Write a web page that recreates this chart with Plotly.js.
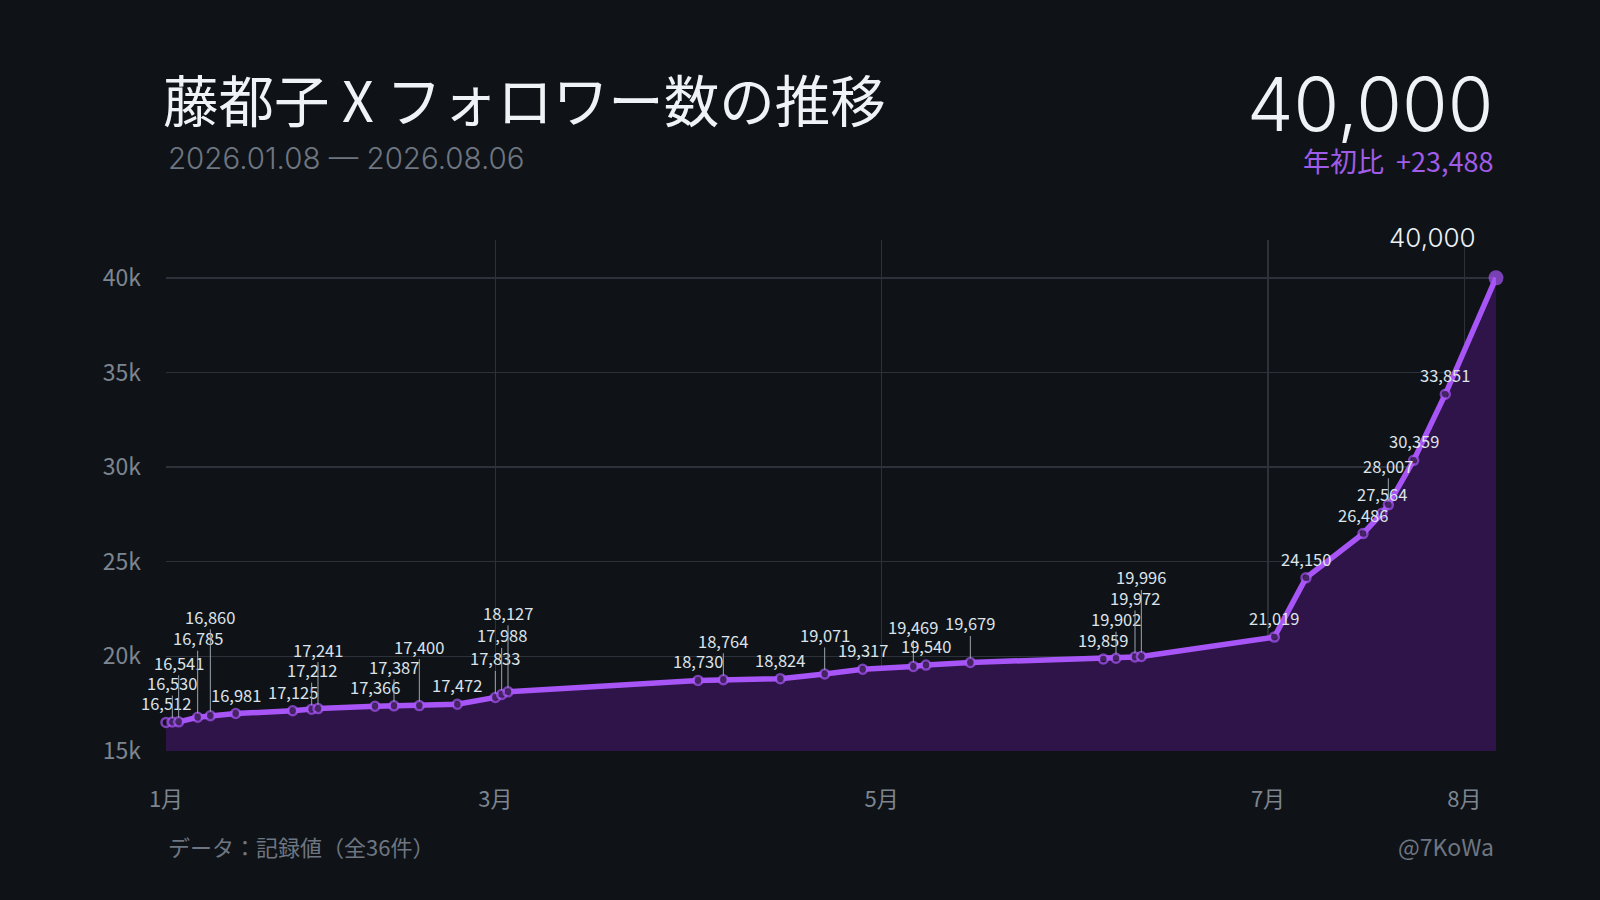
<!DOCTYPE html>
<html><head><meta charset="utf-8">
<script src="https://cdn.plot.ly/plotly-3.0.1.min.js"></script>
<style>html,body{margin:0;padding:0;background:#0f1318;}#chart{width:1600px;height:900px;}</style>
</head><body><div id="chart"></div>
<script>
// ---- data ----
const dates = ['2026-01-08','2026-01-09','2026-01-10','2026-01-13','2026-01-15','2026-01-19','2026-01-28','2026-01-31','2026-02-01',
  '2026-02-10','2026-02-13','2026-02-17','2026-02-23','2026-03-01','2026-03-02','2026-03-03',
  '2026-04-02','2026-04-06','2026-04-15','2026-04-22','2026-04-28','2026-05-06','2026-05-08','2026-05-15',
  '2026-06-05','2026-06-07','2026-06-10','2026-06-11',
  '2026-07-02','2026-07-07','2026-07-16','2026-07-19','2026-07-20','2026-07-24','2026-07-29','2026-08-06'];
const followers = [16512,16530,16541,16785,16860,16981,17125,17212,17241,
  17366,17387,17400,17472,17833,17988,18127,
  18730,18764,18824,19071,19317,19469,19540,19679,
  19859,19902,19972,19996,
  21019,24150,26486,27564,28007,30359,33851,40000];
const xTickVals = ['2026-01-08','2026-03-01','2026-05-01','2026-07-01','2026-08-01'];
const xTickText = ['1月','3月','5月','7月','8月'];
const yTickVals = [15000,20000,25000,30000,35000,40000];
const yTickText = ['15k','20k','25k','30k','35k','40k'];
const titleText = '藤都子 X フォロワー数の推移';
const subtitleText = '2026.01.08 — 2026.08.06';
const footerLeft = 'データ：記録値（全36件）';
const footerRight = '@7KoWa';
const changeLabel = '年初比';

// ---- layout helpers (label stacking levels for value labels) ----
const labelLevels = [0,1,2,3,4,0,0,1,2,0,1,2,0,1,2,3,0,1,0,1,0,1,0,1,0,1,2,3,0,0,0,0,1,0,0,-1];

const fmt = v => v.toLocaleString('en-US');
const n = followers.length;
const FONT = '"Noto Sans CJK JP", "Noto Sans", sans-serif';
const NUMFONT = 'Inter, "Noto Sans", sans-serif';
const PURPLE = '#a855f7';

const W = 1600, H = 900, L = 166, R = 104, T = 240, B = 149;
const pw = W - L - R, ph = H - T - B;
const px = x => (x - L) / pw;
const py = y => (H - B - y) / ph;

const trace = {
  x: dates, y: followers, type: 'scatter', mode: 'lines+markers',
  line: {color: PURPLE, width: 5.5},
  fill: 'tozeroy', fillcolor: '#2e1448',
  marker: {
    size: followers.map((v, i) => i === n - 1 ? 15 : 9),
    color: followers.map((v, i) => i === n - 1 ? PURPLE : '#1a1024'),
    line: {color: PURPLE, width: followers.map((v, i) => i === n - 1 ? 0 : 2.5)}
  },
  hoverinfo: 'skip', cliponaxis: false
};

const annotations = [];
followers.forEach((v, i) => {
  const lv = labelLevels[i];
  if (lv < 0) return;
  annotations.push({
    x: dates[i], y: v, xref: 'x', yref: 'y', text: fmt(v),
    showarrow: true, arrowhead: 0, arrowwidth: 1, standoff: 4,
    arrowcolor: lv > 0 ? '#9aa3ad' : 'rgba(0,0,0,0)',
    ax: 0, ay: -(19 + 20 * lv),
    font: {family: FONT, size: 16.5, color: '#dde3ea'}, borderpad: 0
  });
});
// end value label
annotations.push({
  x: dates[n - 1], y: followers[n - 1], xref: 'x', yref: 'y', text: fmt(followers[n - 1]),
  showarrow: false, xanchor: 'right', yanchor: 'middle', xshift: -18, yshift: 40,
  font: {family: NUMFONT, size: 26, weight: 300, color: '#eef2f6'}
});
// header
annotations.push({
  x: px(166), y: py(158), xref: 'paper', yref: 'paper', xanchor: 'left', yanchor: 'middle',
  text: subtitleText, showarrow: false, font: {family: NUMFONT, size: 29.5, weight: 300, color: '#6e7681'}
});
annotations.push({
  x: px(1496), y: py(104), xref: 'paper', yref: 'paper', xanchor: 'right', yanchor: 'middle',
  text: fmt(followers[n - 1]), showarrow: false, font: {family: NUMFONT, size: 74, weight: 300, color: '#f0f3f6'}
});
annotations.push({
  x: px(1496), y: py(161), xref: 'paper', yref: 'paper', xanchor: 'right', yanchor: 'middle',
  text: changeLabel + '  +' + fmt(followers[n - 1] - followers[0]), showarrow: false,
  font: {family: FONT, size: 27, color: '#a05ce8'}
});
// footer
annotations.push({
  x: px(166), y: py(846), xref: 'paper', yref: 'paper', xanchor: 'left', yanchor: 'middle',
  text: footerLeft, showarrow: false, font: {family: FONT, size: 22, color: '#6e7681'}
});
annotations.push({
  x: px(1496), y: py(846), xref: 'paper', yref: 'paper', xanchor: 'right', yanchor: 'middle',
  text: footerRight, showarrow: false, font: {family: FONT, size: 23, color: '#6e7681'}
});

const layout = {
  width: W, height: H,
  paper_bgcolor: '#0f1318', plot_bgcolor: '#0f1318',
  margin: {l: L, r: R, t: T, b: B},
  showlegend: false,
  title: {text: titleText, xref: 'container', yref: 'container', x: 163 / W, xanchor: 'left',
          y: 1 - 103 / H, yanchor: 'middle', font: {family: FONT, size: 55.5, color: '#f0f3f6'}},
  xaxis: {
    type: 'date', range: ['2026-01-08', '2026-08-06'],
    tickvals: xTickVals, ticktext: xTickText,
    showgrid: true, gridcolor: '#2d323a', gridwidth: 1.5, zeroline: false, showline: false,
    ticks: '', ticklabelstandoff: 33,
    tickfont: {family: FONT, size: 22, color: '#7d8590'}
  },
  yaxis: {
    range: [15000, 42000], tickvals: yTickVals, ticktext: yTickText,
    showgrid: true, gridcolor: '#2d323a', gridwidth: 1.5, zeroline: false, showline: false,
    ticks: '', ticklabelstandoff: 24,
    tickfont: {family: FONT, size: 23, color: '#7d8590'}
  },
  annotations: annotations
};

Plotly.newPlot('chart', [trace], layout, {staticPlot: true, displayModeBar: false});
</script>
</body></html>
